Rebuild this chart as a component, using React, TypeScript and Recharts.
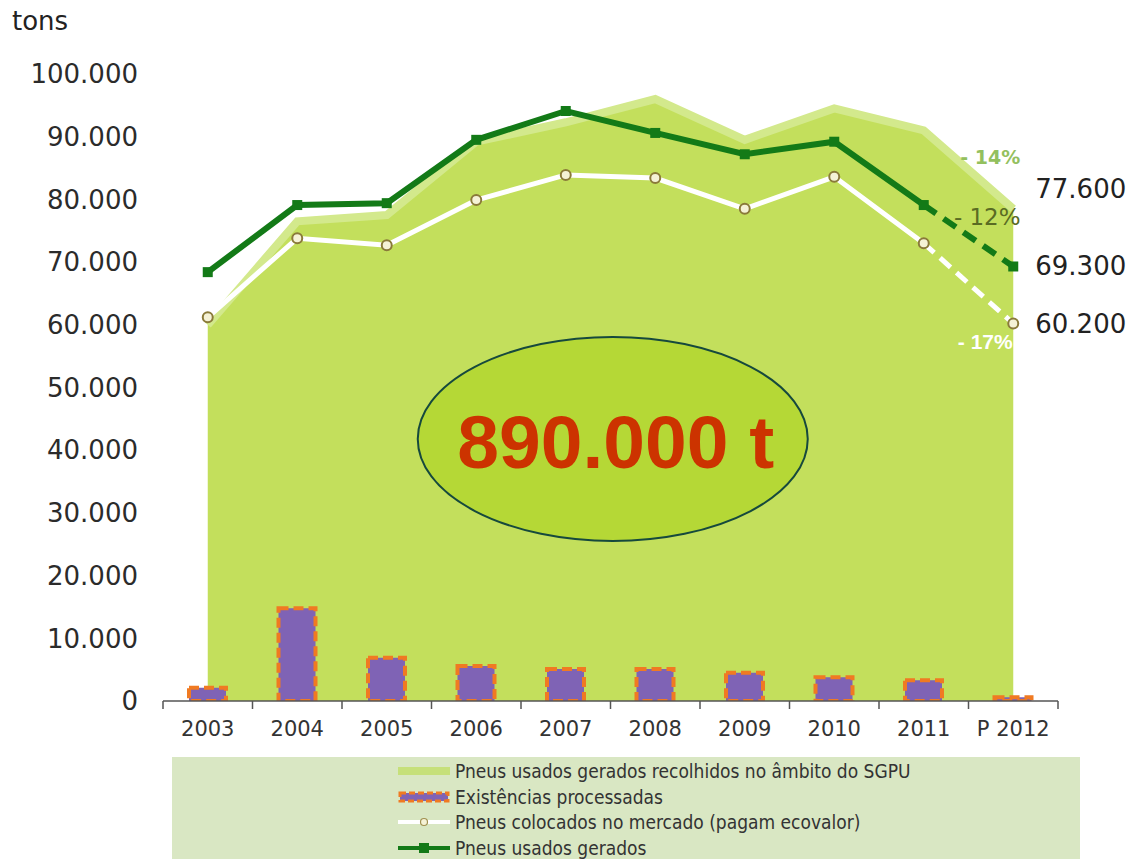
import React from "react";
import { ComposedChart, Area, Bar, Line, XAxis, YAxis, ReferenceDot } from "recharts";

const years = ["2003", "2004", "2005", "2006", "2007", "2008", "2009", "2010", "2011", "P 2012"];
// Pneus usados gerados recolhidos no âmbito do SGPU
const recolhidos = [60000, 76500, 77500, 89200, 92300, 96000, 89500, 94500, 91000, 78500];
// Existências processadas
const processadas = [2100, 14800, 6900, 5600, 5100, 5100, 4500, 3800, 3300, 600];
// Pneus colocados no mercado (pagam ecovalor)
const mercado = [61200, 73800, 72700, 79900, 83900, 83400, 78500, 83600, 73000, 60200];
// Pneus usados gerados
const gerados = [68400, 79100, 79400, 89500, 94100, 90600, 87200, 89200, 79100, 69300];
const yTicks = [0, 10000, 20000, 30000, 40000, 50000, 60000, 70000, 80000, 90000, 100000];
const lastReal = 8; // 2011 = last real year, 2012 is projected

const CHART_W = 1128;
const MARGIN = { top: 74, right: 70, bottom: 128, left: 0 };
const Y_W = 163;
const band = (CHART_W - MARGIN.right - MARGIN.left - Y_W) / years.length;

const data = years.map((year, i) => ({
  year,
  recolhidos: recolhidos[i],
  processadas: processadas[i],
  mercado: i <= lastReal ? mercado[i] : null,
  mercadoP: i >= lastReal ? mercado[i] : null,
  gerados: i <= lastReal ? gerados[i] : null,
  geradosP: i >= lastReal ? gerados[i] : null,
}));

const fmt = (v: number) => String(v).replace(/\B(?=(\d{3})+(?!\d))/g, ".");

const FONT = "'DejaVu Sans', Verdana, sans-serif";
const LEG_FONT = "'DejaVu Sans Condensed', 'DejaVu Sans', sans-serif";

// category label plus tick marks on the band edges
const YearTick = (p: any) => {
  const { x, y, payload, index } = p;
  const half = band / 2;
  return (
    <g>
      <line x1={x - half} y1={y} x2={x - half} y2={y + 8} stroke="#555" strokeWidth={1.5} />
      {index === years.length - 1 && <line x1={x + half} y1={y} x2={x + half} y2={y + 8} stroke="#555" strokeWidth={1.5} />}
      <text x={x} y={y + 20} dy="0.71em" textAnchor="middle" fontSize={21} fontFamily={FONT} fill="#333">{payload.value}</text>
    </g>
  );
};

const circleDot = (p: any) => {
  const { cx, cy, index, payload, dataKey } = p;
  if (cx == null || cy == null || payload[dataKey] == null) return <g key={`c-${dataKey}-${index}`} />;
  return <circle key={`c-${dataKey}-${index}`} cx={cx} cy={cy} r={5} fill="#f5f2d6" stroke="#8a7a3a" strokeWidth={2} />;
};

const squareDot = (p: any) => {
  const { cx, cy, index, payload, dataKey } = p;
  if (cx == null || cy == null || payload[dataKey] == null) return <g key={`s-${dataKey}-${index}`} />;
  return <rect key={`s-${dataKey}-${index}`} x={cx - 5} y={cy - 5} width={10} height={10} fill="#137a17" />;
};

// projected points: marker + value label + percent change
const mercadoEnd = (p: any) => {
  const { cx, cy, index } = p;
  if (index !== years.length - 1) return <g key={`me-${index}`} />;
  return (
    <g key={`me-${index}`}>
      {circleDot(p)}
      <text x={cx + 22} y={cy} dominantBaseline="central" fontSize={26} fontFamily={FONT} fill="#222">{fmt(mercado[index])}</text>
      <text x={cx - 28} y={cy + 18} textAnchor="middle" dominantBaseline="central" fontSize={21} fontWeight="bold" fontFamily="'Liberation Sans', Arial, sans-serif" fill="#ffffff">- 17%</text>
    </g>
  );
};

const geradosEnd = (p: any) => {
  const { cx, cy, index } = p;
  if (index !== years.length - 1) return <g key={`ge-${index}`} />;
  return (
    <g key={`ge-${index}`}>
      {squareDot(p)}
      <text x={cx + 22} y={cy} dominantBaseline="central" fontSize={26} fontFamily={FONT} fill="#222">{fmt(gerados[index])}</text>
      <text x={cx - 26} y={cy - 49} textAnchor="middle" dominantBaseline="central" fontSize={23} fontFamily={FONT} fill="#5a6b23">- 12%</text>
    </g>
  );
};

const areaEnd = (p: any) => {
  const { cx, cy, index } = p;
  if (index !== years.length - 1) return <g key={`ae-${index}`} />;
  return (
    <g key={`ae-${index}`}>
      <text x={cx + 22} y={cy - 20} dominantBaseline="central" fontSize={26} fontFamily={FONT} fill="#222">77.600</text>
      <text x={cx - 23} y={cy - 52} textAnchor="middle" dominantBaseline="central" fontSize={19} fontWeight="bold" fontFamily={FONT} fill="#93c05e">- 14%</text>
    </g>
  );
};

const totalBubble = (p: any) => {
  const { cx, cy } = p;
  const x = cx + 47;
  return (
    <g>
      <ellipse cx={x} cy={cy} rx={195} ry={102} fill="#b5d836" stroke="#16493d" strokeWidth={2} />
      <text x={x + 3} y={cy + 29} textAnchor="middle" fontSize={75} fontWeight="bold" fontFamily="'Liberation Sans', Arial, sans-serif" fill="#cc3300">890.000 t</text>
    </g>
  );
};

const legendItems = [
  { label: "Pneus usados gerados recolhidos no âmbito do SGPU", kind: "area" },
  { label: "Existências processadas", kind: "bar" },
  { label: "Pneus colocados no mercado (pagam ecovalor)", kind: "white" },
  { label: "Pneus usados gerados", kind: "green" },
];

const Swatch = ({ kind }: { kind: string }) => (
  <svg width={52} height={14} style={{ display: "block" }}>
    {kind === "area" && <rect x={0} y={3} width={52} height={8} fill="#c6e07a" />}
    {kind === "bar" && <rect x={2} y={3} width={48} height={8} fill="#7f63b5" stroke="#f07a22" strokeWidth={3} strokeDasharray="6 3" />}
    {kind === "white" && (
      <g>
        <line x1={0} y1={7} x2={52} y2={7} stroke="#ffffff" strokeWidth={4} />
        <circle cx={26} cy={7} r={3.5} fill="#f5f2d6" stroke="#a09050" strokeWidth={1.2} />
      </g>
    )}
    {kind === "green" && (
      <g>
        <line x1={0} y1={7} x2={52} y2={7} stroke="#137a17" strokeWidth={4} />
        <rect x={21} y={2} width={10} height={10} fill="#137a17" />
      </g>
    )}
  </svg>
);

export default function App() {
  return (
    <div style={{ position: "absolute", left: 0, top: 0, width: 1128, height: 859, background: "#fff", overflow: "hidden" }}>
      <div style={{ position: "absolute", left: 172, top: 757, width: 908, height: 102, background: "#d9e7c3" }}>
        {legendItems.map((it, i) => (
          <div key={it.label} style={{ position: "absolute", left: 226, top: 14 + i * 25.5 - 10, height: 20, display: "flex", alignItems: "center" }}>
            <Swatch kind={it.kind} />
            <span style={{ marginLeft: 5, fontFamily: LEG_FONT, fontSize: 19, color: "#333", whiteSpace: "nowrap" }}>{it.label}</span>
          </div>
        ))}
      </div>
      <div style={{ position: "absolute", left: 12, top: 6, fontFamily: FONT, fontSize: 26, color: "#222", lineHeight: "30px" }}>tons</div>
      <div style={{ position: "absolute", left: 0, top: 0 }}>
        <ComposedChart width={CHART_W} height={859} data={data} margin={MARGIN}>
          <XAxis
            dataKey="year"
            height={30}
            axisLine={{ stroke: "#555", strokeWidth: 1.5 }}
            tickLine={false}
            tickSize={0}
            tickMargin={0}
            interval={0}
            tick={YearTick}
          />
          <YAxis
            width={Y_W}
            domain={[0, 100000]}
            ticks={yTicks}
            interval={0}
            allowDataOverflow
            axisLine={false}
            tickLine={false}
            tickSize={0}
            tickMargin={25}
            tickFormatter={fmt}
            tick={{ fontSize: 26, fontFamily: FONT, fill: "#2b2b2b" }}
          />
          <Area
            type="linear"
            dataKey="recolhidos"
            fill="#c3df5c"
            fillOpacity={1}
            stroke="#d3e98c"
            strokeWidth={8}
            dot={areaEnd}
            activeDot={false}
            isAnimationActive={false}
          />
          <Bar
            dataKey="processadas"
            barSize={37}
            fill="#7f63b5"
            stroke="#f07a22"
            strokeWidth={4}
            strokeDasharray="10 5"
            isAnimationActive={false}
          />
          <Line type="linear" dataKey="mercado" stroke="#ffffff" strokeWidth={5} dot={circleDot} activeDot={false} isAnimationActive={false} />
          <Line type="linear" dataKey="mercadoP" stroke="#ffffff" strokeWidth={5} strokeDasharray="14 8" dot={mercadoEnd} activeDot={false} isAnimationActive={false} />
          <Line type="linear" dataKey="gerados" stroke="#137a17" strokeWidth={6} dot={squareDot} activeDot={false} isAnimationActive={false} />
          <Line type="linear" dataKey="geradosP" stroke="#137a17" strokeWidth={6} strokeDasharray="15 9" dot={geradosEnd} activeDot={false} isAnimationActive={false} />
          <ReferenceDot x="2007" y={41800} r={0} shape={totalBubble} />
        </ComposedChart>
      </div>
    </div>
  );
}
